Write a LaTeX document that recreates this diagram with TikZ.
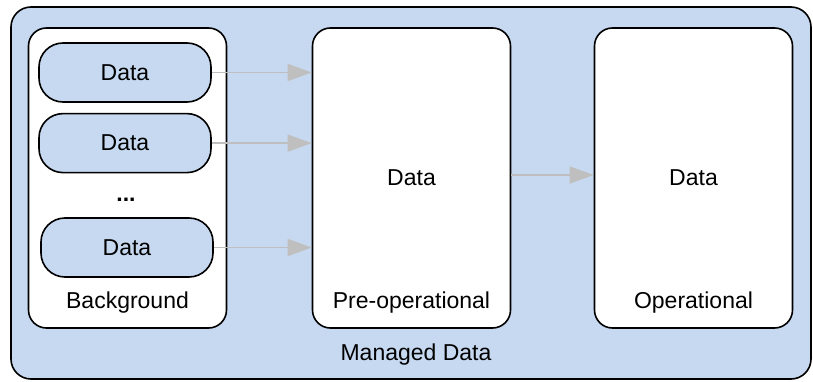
\documentclass[tikz,border=0pt]{standalone}
\usepackage{fontspec}
\setmainfont{Liberation Sans}
\usepackage{tikz}
\usetikzlibrary{arrows.meta,positioning}
\definecolor{paleblue}{RGB}{198,217,240}
\definecolor{arrowgray}{RGB}{191,191,191}
\tikzset{
    %Define standard arrow tip
    >={Triangle[length=24pt,width=17pt]},
    %Define style for the outer area
    outer/.style={
           rectangle,
           rounded corners=20pt,
           draw=black, line width=1.6pt,
           fill=paleblue,
           minimum width=800pt,
           minimum height=372pt},
    %Define style for the stages
    stage/.style={
           rectangle,
           rounded corners=18pt,
           draw=black, line width=1.6pt,
           fill=white,
           minimum width=198pt,
           minimum height=300pt,
           font=\fontsize{23}{27}\selectfont,
           text centered},
    pill/.style={
           rectangle,
           rounded corners=24pt,
           draw=black, line width=1.6pt,
           fill=paleblue,
           minimum width=172pt,
           minimum height=59pt,
           font=\fontsize{23}{27}\selectfont,
           text centered},
    caption/.style={
           font=\fontsize{23}{27}\selectfont},
    % Define arrow style
    pil/.style={
           ->,
           draw=arrowgray,
           line width=1.5pt}
}
\begin{document}
\begin{tikzpicture}[x=1pt,y=1pt]
\useasboundingbox (0,0) rectangle (813,381);
 %outer area
\node[outer](managed) at (411,188){};
\node[caption](managedlabel) at (416,26){Managed Data};
 %stages
\node[stage](bg) at (127.5,203){};
\node[stage](pre) at (411.5,203){Data};
\node[stage](op) at (693.5,203){Data};
\node[caption](bglabel) at (127.5,78){Background};
\node[caption](prelabel) at (411.5,78){Pre-operational};
\node[caption](oplabel) at (693.5,78){Operational};
 %data items
\node[pill](d1) at (125,308.5){Data};
\node[pill, below=10pt of d1](d2){Data};
\node[caption](dots) at (126,181){\textbf{...}};
\node[pill](d3) at (127,133.5){Data};
 %connectors
\draw[pil] (d1.east) -- (d1.east -| pre.west);
\draw[pil] (d2.east) -- (d2.east -| pre.west);
\draw[pil] (d3.east) -- (d3.east -| pre.west);
\draw[pil] ([yshift=3pt]pre.east) -- ([yshift=3pt]op.west);
\end{tikzpicture}
\end{document}
